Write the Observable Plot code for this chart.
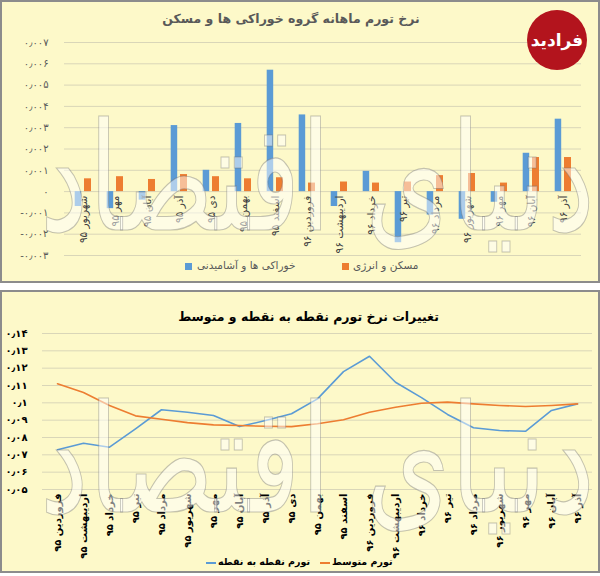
<!DOCTYPE html>
<html><head><meta charset="utf-8">
<script src="https://cdn.jsdelivr.net/npm/d3@7"></script>
<script src="https://cdn.jsdelivr.net/npm/@observablehq/plot@0.6"></script>
<style>
body{margin:0;background:#fff;font-family:"DejaVu Sans",sans-serif;}
#wrap{position:relative;width:600px;height:576px;overflow:hidden;background:#fff;}
.panel{position:absolute;left:0;width:596px;background:#fdf9c9;border:2px solid #8c8c8c;}
.abs{position:absolute;white-space:nowrap;}
#top svg,#bottom svg{position:absolute;left:0;}
</style></head><body>
<div id="wrap">
  <div class="panel" style="top:0;height:279px"></div>
  <div class="panel" style="top:290px;height:279px"></div>
  <div id="top" class="abs" style="left:0;top:0;width:600px;height:283px"></div>
  <div id="bottom" class="abs" style="left:0;top:291px;width:600px;height:282px"></div>

  <div class="abs" dir="rtl" style="left:0;top:11px;width:582px;text-align:center;font-size:12.5px;font-weight:bold;color:#595959">نرخ تورم ماهانه گروه خوراکی ها و مسکن</div>
  <div class="abs" dir="rtl" style="left:0;top:309px;width:617px;text-align:center;font-size:12.5px;font-weight:bold;color:#000">تغییرات نرخ تورم نقطه به نقطه و متوسط</div>

  <div class="abs" style="left:185px;top:263px;width:7px;height:7px;background:#5b9bd5"></div>
  <div class="abs" dir="rtl" style="left:197px;top:259px;font-size:10.5px;color:#595959">خوراکی ها و آشامیدنی</div>
  <div class="abs" style="left:342px;top:263px;width:7px;height:7px;background:#ed7d31"></div>
  <div class="abs" dir="rtl" style="left:353px;top:259px;font-size:10.5px;color:#595959">مسکن و انرژی</div>

  <div class="abs" style="left:206px;top:562px;width:10px;height:2px;background:#5b9bd5"></div>
  <div class="abs" dir="rtl" style="left:218px;top:556px;font-size:9.5px;font-weight:bold;color:#000">تورم نقطه به نقطه</div>
  <div class="abs" style="left:320px;top:562px;width:10px;height:2px;background:#ed7d31"></div>
  <div class="abs" dir="rtl" style="left:332px;top:556px;font-size:9.5px;font-weight:bold;color:#000">تورم متوسط</div>

  <svg id="deco" class="abs" style="left:0;top:0;pointer-events:none" width="600" height="576">
    <g class="wm" data-x="40" data-y="230" data-w="555"><text font-family="DejaVu Sans" font-size="100" fill="#ffffff" fill-opacity="0.5" stroke="#6f6f6f" stroke-opacity="0.4" stroke-width="0.8">دنیای اقتصاد</text></g>
    <g class="wm" data-x="40" data-y="512" data-w="555"><text font-family="DejaVu Sans" font-size="100" fill="#ffffff" fill-opacity="0.5" stroke="#6f6f6f" stroke-opacity="0.4" stroke-width="0.8">دنیای اقتصاد</text></g>
    <circle cx="557" cy="40" r="30" fill="#b3141d"/>
    <text x="557" y="46" text-anchor="middle" font-family="DejaVu Sans" font-weight="bold" font-size="17" fill="#fff">فرادید</text>
  </svg>
</div>
<script>
const topMonths = ["شهریور ۹۵","مهر ۹۵","آبان ۹۵","آذر ۹۵","دی ۹۵","بهمن ۹۵","اسفند ۹۵","فروردین ۹۶","اردیبهشت ۹۶","خرداد ۹۶","تیر ۹۶","مرداد ۹۶","شهریور ۹۶","مهر ۹۶","آبان ۹۶","آذر ۹۶"];
const foodValues = [-0.0007,-0.0008,-0.0004,0.0031,0.001,0.0032,0.0057,0.0036,-0.0007,0.00095,-0.0024,-0.0011,-0.0013,-0.0005,0.0018,0.0034];
const housingValues = [0.0006,0.0007,0.00057,0.0008,0.0007,0.0006,0.00065,0.0004,0.00045,0.0004,0.00045,0.00075,0.00085,0.0004,0.0016,0.0016];
const topTicks = [-0.003,-0.002,-0.001,0,0.001,0.002,0.003,0.004,0.005,0.006,0.007];

const lineMonths = ["فروردین ۹۵","اردیبهشت ۹۵","خرداد ۹۵","تیر ۹۵","مرداد ۹۵","شهریور ۹۵","مهر ۹۵","آبان ۹۵","آذر ۹۵","دی ۹۵","بهمن ۹۵","اسفند ۹۵","فروردین ۹۶","اردیبهشت ۹۶","خرداد ۹۶","تیر ۹۶","مرداد ۹۶","شهریور ۹۶","مهر ۹۶","آبان ۹۶","آذر ۹۶"];
const pointToPoint = [0.0729,0.0767,0.0744,0.085,0.096,0.0946,0.0927,0.0863,0.0898,0.0937,0.1023,0.118,0.1269,0.1119,0.103,0.0933,0.0856,0.084,0.0836,0.0956,0.0994];
const averageRate = [0.111,0.106,0.0985,0.0925,0.0905,0.0886,0.0873,0.0869,0.0865,0.0863,0.0879,0.0902,0.0946,0.0975,0.0998,0.1004,0.0994,0.0985,0.0979,0.0985,0.0994];
const bottomTicks = [0.05,0.06,0.07,0.08,0.09,0.1,0.11,0.12,0.13,0.14];

const fa = s => s.replace(/[0-9]/g, d => "۰۱۲۳۴۵۶۷۸۹"[d]).replace(".", "٫");
const fmtTop = v => v === 0 ? "۰" : fa(String(+v.toFixed(3)));
const fmtBottom = v => fa(String(+v.toFixed(2)));

const food = topMonths.map((m, i) => ({month: m, value: foodValues[i]}));
const housing = topMonths.map((m, i) => ({month: m, value: housingValues[i]}));

const topPlot = Plot.plot({
  width: 600, height: 262,
  marginTop: 42, marginBottom: 7, marginLeft: 64, marginRight: 19,
  style: {background: "transparent", fontFamily: "DejaVu Sans", overflow: "visible"},
  x: {domain: topMonths, padding: 0, axis: null},
  y: {domain: [-0.003, 0.007], axis: null},
  marks: [
    Plot.gridY(topTicks, {stroke: "#d9d6b8", strokeOpacity: 1}),
    Plot.axisY(topTicks, {label: null, tickSize: 0, tickPadding: 16, tickFormat: fmtTop, fill: "#595959", fontSize: 10}),
    Plot.barY(food, {x: "month", y: "value", fill: "#5b9bd5", insetLeft: 7.7, insetRight: 17.8}),
    Plot.barY(housing, {x: "month", y: "value", fill: "#ed7d31", insetLeft: 17, insetRight: 8}),
    Plot.text(topMonths, {x: d => d, y: () => 0, text: d => d, rotate: -90, textAnchor: "end", dy: 4, fill: "#404040", fontSize: 10.5})
  ]
});
document.getElementById("top").appendChild(topPlot);

const ptp = lineMonths.map((m, i) => ({month: m, value: pointToPoint[i]}));
const avg = lineMonths.map((m, i) => ({month: m, value: averageRate[i]}));

const bottomPlot = Plot.plot({
  width: 600, height: 268,
  marginTop: 42, marginBottom: 70, marginLeft: 42, marginRight: 8,
  style: {background: "transparent", fontFamily: "DejaVu Sans", overflow: "visible"},
  x: {domain: lineMonths, type: "point", padding: 0.45, axis: null},
  y: {domain: [0.05, 0.14], axis: null},
  marks: [
    Plot.gridY(bottomTicks, {stroke: "#d9d6b8", strokeOpacity: 1}),
    Plot.axisY(bottomTicks, {label: null, tickSize: 0, tickPadding: 15, tickFormat: fmtBottom, fill: "#000", fontWeight: "bold", fontSize: 10}),
    Plot.axisX({label: null, tickRotate: -90, tickSize: 0, tickPadding: 4, fill: "#000", fontWeight: "bold", fontSize: 10}),
    Plot.line(ptp, {x: "month", y: "value", stroke: "#5b9bd5", strokeWidth: 1.6}),
    Plot.line(avg, {x: "month", y: "value", stroke: "#ed7d31", strokeWidth: 1.6})
  ]
});
document.getElementById("bottom").appendChild(bottomPlot);

// decorative watermark scaled to its width
document.querySelectorAll("#deco g.wm").forEach(g => {
  const t = g.querySelector("text");
  const w = t.getComputedTextLength() || 555;
  const s = (+g.dataset.w) / w;
  g.setAttribute("transform", `translate(${g.dataset.x},${g.dataset.y}) scale(${s},1.5)`);
});
</script>
</body></html>
